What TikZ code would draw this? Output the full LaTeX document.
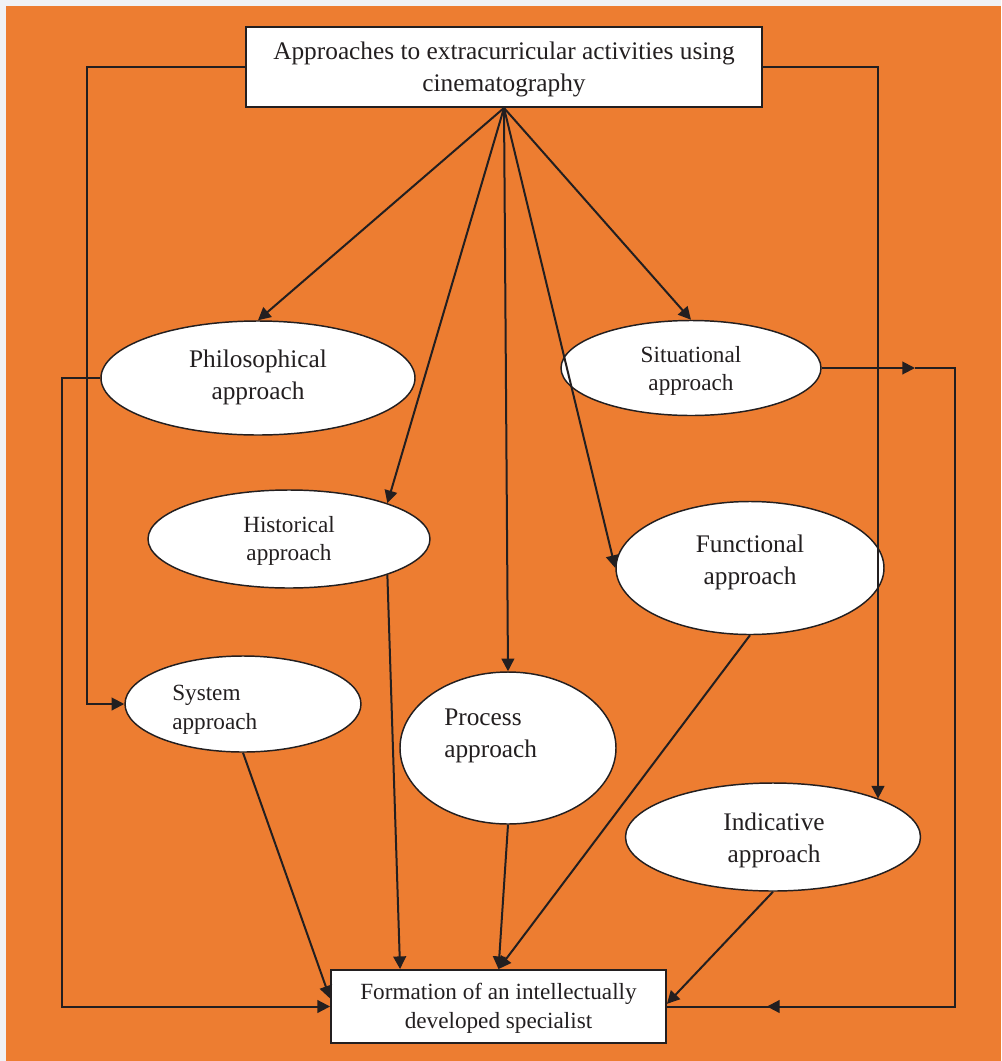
\documentclass[tikz,border=0pt]{standalone}
\usepackage{fontspec}
\setmainfont{Liberation Serif}
\usetikzlibrary{arrows.meta,shapes.geometric,calc}
\definecolor{bgOrange}{HTML}{ED7D31}
\definecolor{bgGray}{HTML}{F0F2F5}
\definecolor{ink}{HTML}{231F20}
\tikzset{
    approach/.style={ellipse, draw=ink, line width=1.1pt, fill=white, inner sep=0pt},
    bigText/.style={font=\fontsize{19}{24}\selectfont, text=ink, align=center, inner sep=0pt},
    smallText/.style={font=\fontsize{17.4}{21.5}\selectfont, text=ink, align=center, inner sep=0pt},
    box/.style={rectangle, draw=ink, line width=1.4pt, fill=white, inner sep=0pt},
    link/.style={draw=ink, line width=1.5pt},
    arr/.style={link, -{Triangle[length=9.5pt,width=9.5pt]}}
}
\begin{document}
\begin{tikzpicture}[x=0.75pt, y=-0.75pt]
        \fill[bgGray] (0,0) rectangle (1001,1061);
        \fill[bgOrange] (6,6) rectangle (1001,1061);

        % boxes
        \node[box, minimum width=387pt, minimum height=60pt] (top) at (504,67) {};
        \node[box, minimum width=251.25pt, minimum height=54.75pt] (form) at (498.5,1006.5) {};
        \node[bigText] (topText) at (504,69.5) {Approaches to extracurricular activities using\\cinematography};
        \node[smallText] (formText) at (498.5,1008.5) {Formation of an intellectually\\developed specialist};

        % approaches
        \foreach \nm/\cx/\cy/\w/\h in {phil/258/378/235.5/85.5, sit/691/368/195/71.25, hist/289/539/211.5/73.5, func/750/568/201/99.75, sys/243/704/177/72, proc/508/748/162/114, ind/773/837/221.25/81}
            \node[approach, minimum width=\w pt, minimum height=\h pt] (\nm) at (\cx,\cy) {};

        \node[bigText] (philText) at (258,377) {Philosophical\\approach};
        \node[smallText] (sitText) at (691,371) {Situational\\approach};
        \node[smallText] (histText) at (289,541) {Historical\\approach};
        \node[bigText] (funcText) at (750,562) {Functional\\approach};
        \node[bigText] (indText) at (774,840) {Indicative\\approach};
        \node[smallText, anchor=west, align=left] (sysText) at (172,710) {System\\approach};
        \node[bigText, anchor=west, align=left] (procText) at (444,736) {Process\\approach};

        % side routes
        \coordinate (leftA) at (87,67);
        \coordinate (leftB) at (62,378);
        \coordinate (rightA) at (878,67);
        \coordinate (rightB) at (955,368);
        \coordinate (sitTip) at (915,368);
        \coordinate (rightC) at (rightB |- form.east);
        \coordinate (formTip) at ([xshift=75pt]form.east);

        % from the top box
        \draw[arr] (top.south) -- (phil.north);
        \draw[arr] (top.south) -- (hist.20);
        \draw[arr] (top.south) -- (proc.north);
        \draw[arr] (top.south) -- (func.west);
        \draw[arr] (top.south) -- (sit.north);
        \draw[arr] (top.west) -- (leftA) |- (sys.west);
        \draw[arr] (top.east) -- (rightA) -- (rightA |- ind.20);

        % to the bottom box
        \draw[arr] (phil.west) -- (leftB) |- (form.west);
        \draw[arr] (sys.south) -- ([yshift=6pt]form.west);
        \draw[arr] (hist.-20) -- ($(form.north west)+(70,0)$);
        \draw[arr] (proc.south) -- (form.north);
        \draw[arr] (func.south) -- (form.north);
        \draw[arr] (ind.south) -- ([yshift=2pt]form.east);
        \draw[arr] (sit.east) -- (sitTip);
        \draw[link] (sitTip) -- (rightB) -- (rightC) -- (form.east);
        \draw[arr] (rightC) -- (formTip);
\end{tikzpicture}
\end{document}
